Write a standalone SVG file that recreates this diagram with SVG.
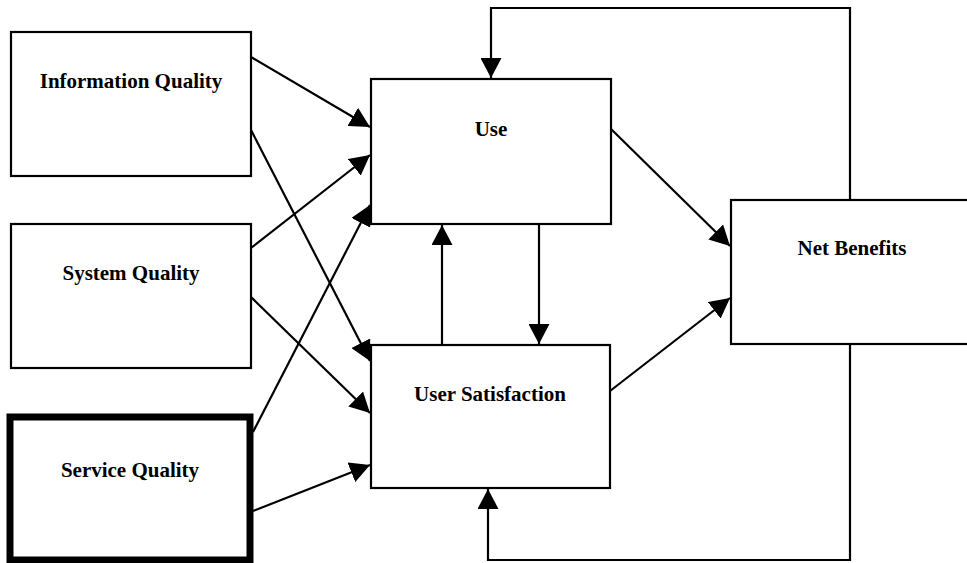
<svg xmlns="http://www.w3.org/2000/svg" width="967" height="563" viewBox="0 0 967 563">
<defs>
<marker id="ah" markerUnits="userSpaceOnUse" markerWidth="20" markerHeight="21" refX="20" refY="10.5" orient="auto">
<path d="M0,0 L20,10.5 L0,21 z" fill="#000"/>
</marker>
<style>
.box{fill:#fff;stroke:#000;stroke-width:2.2}
.thick{fill:#fff;stroke:#000;stroke-width:7}
.lbl{font-family:"Liberation Serif","Times New Roman",serif;font-weight:bold;font-size:21px;text-anchor:middle;fill:#000}
.c{fill:none;stroke:#000;stroke-width:2.2;marker-end:url(#ah)}
</style>
</defs>
<rect width="967" height="563" fill="#fff"/>
<g id="connectors">
<line class="c" x1="251" y1="57" x2="370" y2="127"/>
<line class="c" x1="251" y1="130" x2="370" y2="361"/>
<line class="c" x1="251" y1="248" x2="370" y2="155"/>
<line class="c" x1="251" y1="297" x2="370" y2="413"/>
<line class="c" x1="253" y1="432" x2="370" y2="205"/>
<line class="c" x1="253" y1="511" x2="370" y2="465"/>
<line class="c" x1="611" y1="129" x2="730" y2="246"/>
<line class="c" x1="610" y1="391" x2="730" y2="298"/>
<line class="c" x1="442" y1="345" x2="442" y2="225"/>
<line class="c" x1="539" y1="224" x2="539" y2="344"/>
<polyline class="c" points="850,200 850,8 491,8 491,78"/>
<polyline class="c" points="850,344 850,560 488,560 488,489"/>
</g>
<g id="info-quality">
<rect class="box" x="11" y="32" width="240" height="144"/>
<text class="lbl" x="131" y="88">Information Quality</text>
</g>
<g id="system-quality">
<rect class="box" x="11" y="224" width="240" height="144"/>
<text class="lbl" x="131" y="280">System Quality</text>
</g>
<g id="service-quality">
<rect class="thick" x="10" y="417" width="240" height="143"/>
<text class="lbl" x="130" y="477">Service Quality</text>
</g>
<g id="use">
<rect class="box" x="371" y="79" width="240" height="145"/>
<text class="lbl" x="491" y="136">Use</text>
</g>
<g id="user-satisfaction">
<rect class="box" x="371" y="345" width="239" height="143"/>
<text class="lbl" x="490" y="401">User Satisfaction</text>
</g>
<g id="net-benefits">
<rect class="box" x="731" y="200" width="260" height="144"/>
<text class="lbl" x="852" y="255">Net Benefits</text>
</g>
</svg>
